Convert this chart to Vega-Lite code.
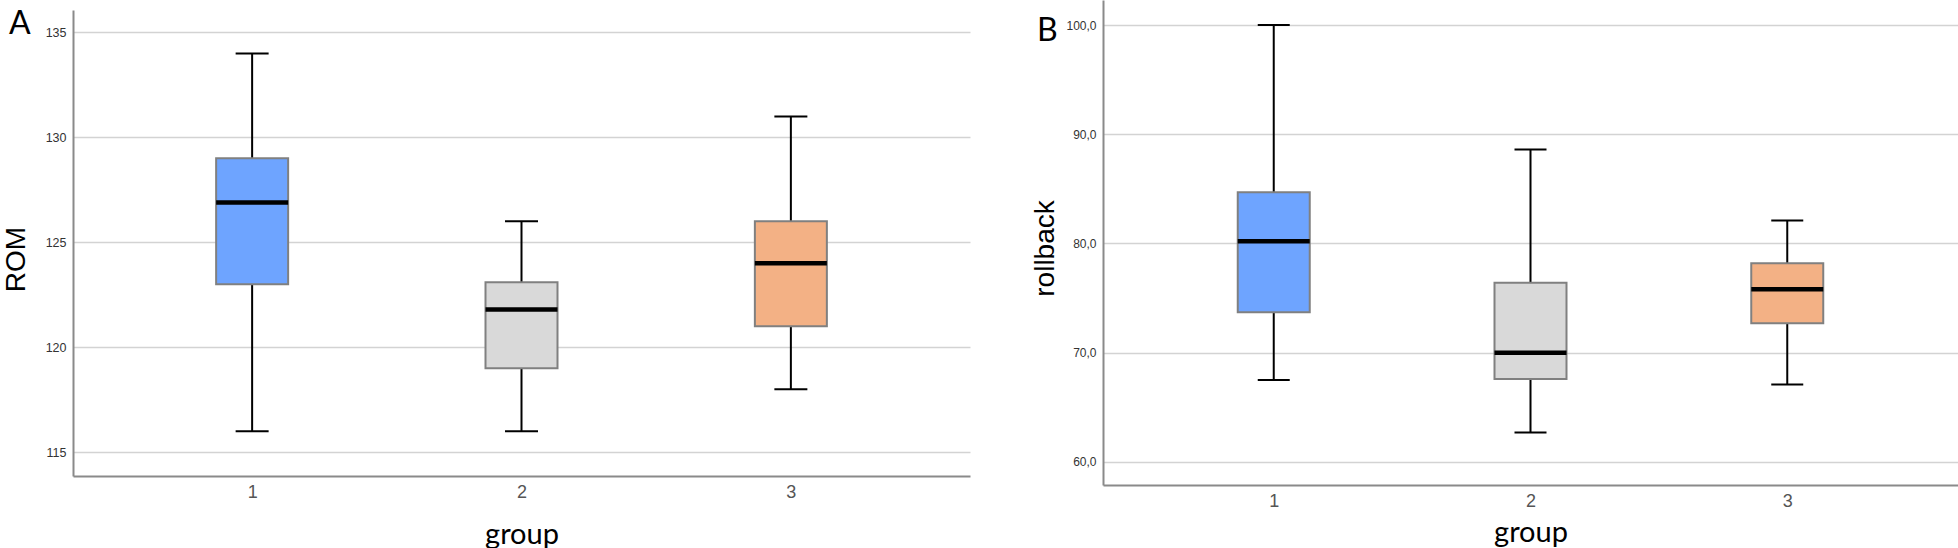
{
  "$schema": "https://vega.github.io/schema/vega-lite/v6.json",
  "padding": {"left": 2, "top": 0, "right": 0, "bottom": 0},
  "background": "white",
  "config": {"view": {"stroke": null}},
  "bounds": "flush",
  "spacing": 133,
  "datasets": {
    "rom": [
      {"group": "1", "lower": 116, "q1": 123, "median": 126.9, "q3": 129, "upper": 134},
      {"group": "2", "lower": 116, "q1": 119, "median": 121.8, "q3": 123.1, "upper": 126},
      {"group": "3", "lower": 118, "q1": 121, "median": 124, "q3": 126, "upper": 131}
    ],
    "rollback": [
      {"group": "1", "lower": 67.5, "q1": 73.7, "median": 80.2, "q3": 84.7, "upper": 100},
      {"group": "2", "lower": 62.7, "q1": 67.6, "median": 70.0, "q3": 76.4, "upper": 88.6},
      {"group": "3", "lower": 67.1, "q1": 72.7, "median": 75.8, "q3": 78.2, "upper": 82.1}
    ]
  },
  "hconcat": [
    {
      "width": 897,
      "height": 476,
      "data": {"name": "rom"},
      "title": {"text": "A", "anchor": "start", "frame": "group", "orient": "top", "font": "Lato", "fontSize": 32, "fontWeight": "normal", "color": "black", "baseline": "top", "offset": 0, "dx": -64, "dy": 41},
      "encoding": {
        "x": {
          "field": "group", "type": "nominal",
          "scale": {"type": "point", "padding": 0.665},
          "axis": {"title": "group", "labelAngle": 0, "ticks": false, "tickSize": 0, "labelPadding": 7, "labelFont": "Liberation Sans", "labelFontSize": 18, "labelColor": "#555555", "domainColor": "#8a8a8a", "domainWidth": 2, "titleFont": "Lato", "titleFontSize": 29, "titleFontWeight": "normal", "titleColor": "black", "titlePadding": 19, "grid": false}
        }
      },
      "layer": [
        {
          "mark": {"type": "rule", "color": "black", "strokeWidth": 2},
          "encoding": {
            "y": {"field": "lower", "type": "quantitative", "title": "ROM",
              "scale": {"domain": [113.865, 136.07], "range": [476, 10], "nice": false, "zero": false},
              "axis": {"title": "ROM", "values": [115, 120, 125, 130, 135], "grid": true, "gridColor": "#d3d3d3", "gridWidth": 1.5, "domainColor": "#8a8a8a", "domainWidth": 2, "ticks": false, "tickSize": 0, "labelPadding": 7, "labelFont": "Liberation Sans", "labelFontSize": 12.5, "labelColor": "#333333", "titleFont": "Liberation Sans", "titleFontSize": 28, "titleFontWeight": "normal", "titleColor": "black", "titlePadding": 15, "titleY": 259}
            },
            "y2": {"field": "upper"}
          }
        },
        {
          "mark": {"type": "tick", "color": "black", "size": 33, "thickness": 2, "opacity": 1},
          "encoding": {"y": {"field": "lower", "type": "quantitative", "title": "ROM"}}
        },
        {
          "mark": {"type": "tick", "color": "black", "size": 33, "thickness": 2, "opacity": 1},
          "encoding": {"y": {"field": "upper", "type": "quantitative", "title": "ROM"}}
        },
        {
          "mark": {"type": "bar", "size": 72, "stroke": "#808080", "strokeWidth": 2, "opacity": 1},
          "encoding": {
            "y": {"field": "q1", "type": "quantitative", "title": "ROM"},
            "y2": {"field": "q3"},
            "color": {"field": "group", "type": "nominal", "scale": {"domain": ["1", "2", "3"], "range": ["#6ea4ff", "#d9d9d9", "#f3b185"]}, "legend": null}
          }
        },
        {
          "mark": {"type": "tick", "color": "black", "size": 72, "thickness": 4.5, "opacity": 1},
          "encoding": {"y": {"field": "median", "type": "quantitative", "title": "ROM"}}
        }
      ]
    },
    {
      "width": 855,
      "height": 485,
      "data": {"name": "rollback"},
      "title": {"text": "B", "anchor": "start", "frame": "group", "orient": "top", "font": "Lato", "fontSize": 32, "fontWeight": "normal", "color": "black", "baseline": "top", "offset": 0, "dx": -66, "dy": 48},
      "encoding": {
        "x": {
          "field": "group", "type": "nominal",
          "scale": {"type": "point", "padding": 0.665},
          "axis": {"title": "group", "labelAngle": 0, "ticks": false, "tickSize": 0, "labelPadding": 7, "labelFont": "Liberation Sans", "labelFontSize": 18, "labelColor": "#555555", "domainColor": "#8a8a8a", "domainWidth": 2, "titleFont": "Lato", "titleFontSize": 29, "titleFontWeight": "normal", "titleColor": "black", "titlePadding": 8, "grid": false}
        }
      },
      "layer": [
        {
          "mark": {"type": "rule", "color": "black", "strokeWidth": 2},
          "encoding": {
            "y": {"field": "lower", "type": "quantitative", "title": "rollback",
              "scale": {"domain": [57.89, 102.29], "nice": false, "zero": false},
              "axis": {"title": "rollback", "values": [60, 70, 80, 90, 100], "labelExpr": "replace(format(datum.value, '.1f'), '.', ',')", "grid": true, "gridColor": "#d3d3d3", "gridWidth": 1.5, "domainColor": "#8a8a8a", "domainWidth": 2, "ticks": false, "tickSize": 0, "labelPadding": 7, "labelFont": "Liberation Sans", "labelFontSize": 12, "labelColor": "#333333", "titleFont": "Liberation Sans", "titleFontSize": 28, "titleFontWeight": "normal", "titleColor": "black", "titlePadding": 6, "titleY": 248}
            },
            "y2": {"field": "upper"}
          }
        },
        {
          "mark": {"type": "tick", "color": "black", "size": 32, "thickness": 2, "opacity": 1},
          "encoding": {"y": {"field": "lower", "type": "quantitative", "title": "rollback"}}
        },
        {
          "mark": {"type": "tick", "color": "black", "size": 32, "thickness": 2, "opacity": 1},
          "encoding": {"y": {"field": "upper", "type": "quantitative", "title": "rollback"}}
        },
        {
          "mark": {"type": "bar", "size": 72, "stroke": "#808080", "strokeWidth": 2, "opacity": 1},
          "encoding": {
            "y": {"field": "q1", "type": "quantitative", "title": "rollback"},
            "y2": {"field": "q3"},
            "color": {"field": "group", "type": "nominal", "scale": {"domain": ["1", "2", "3"], "range": ["#6ea4ff", "#d9d9d9", "#f3b185"]}, "legend": null}
          }
        },
        {
          "mark": {"type": "tick", "color": "black", "size": 72, "thickness": 4.5, "opacity": 1},
          "encoding": {"y": {"field": "median", "type": "quantitative", "title": "rollback"}}
        }
      ]
    }
  ],
  "resolve": {"scale": {"color": "independent"}}
}
